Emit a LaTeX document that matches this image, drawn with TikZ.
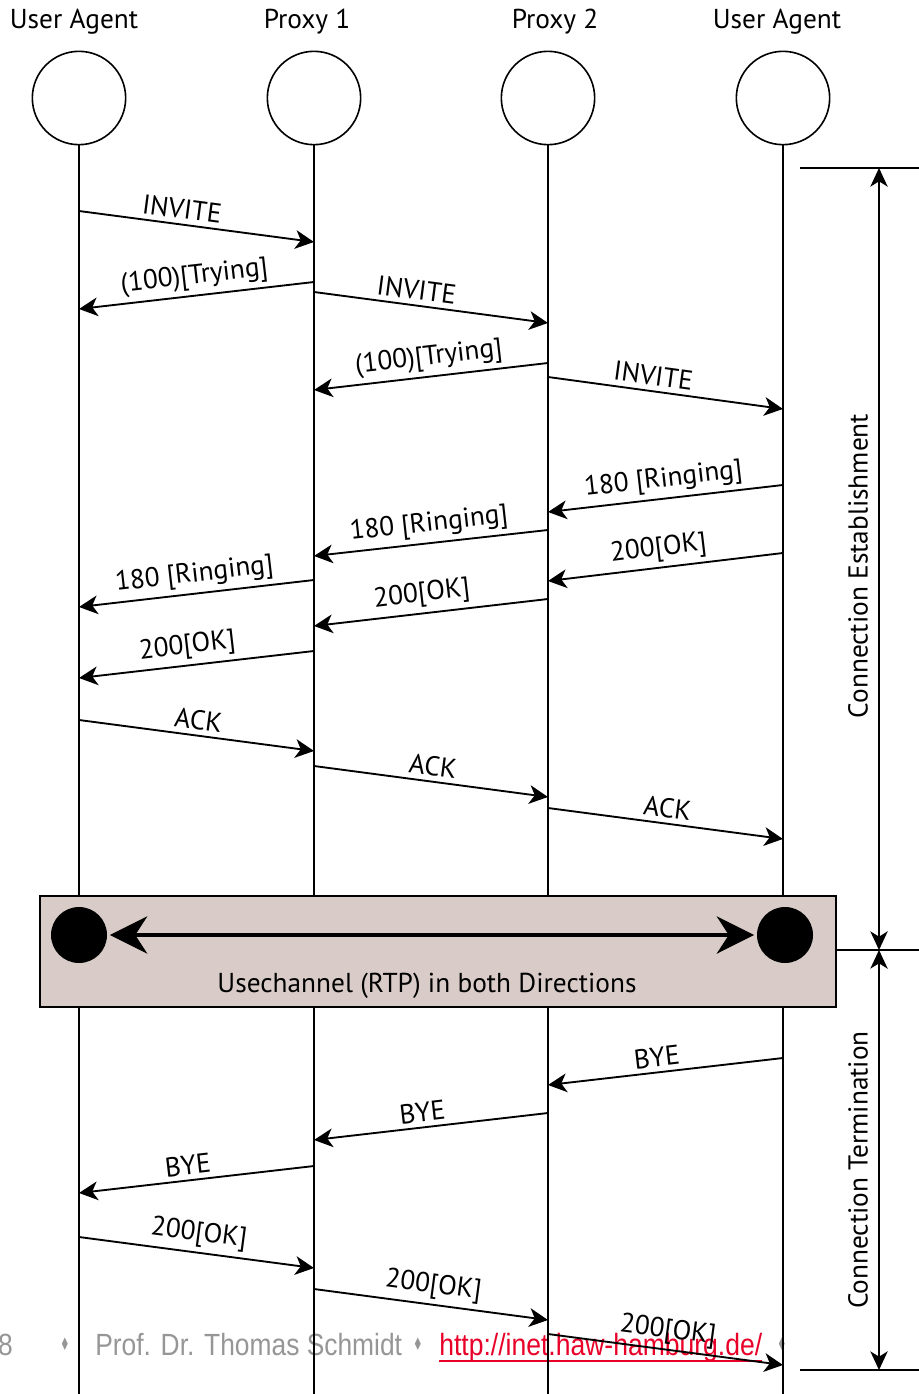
\documentclass[tikz,border=0pt]{standalone}
\usepackage{fontspec}
\setmainfont{PT Sans}
\newfontfamily\footfont{Liberation Sans}
\newfontfamily\symfont{DejaVu Sans}
\usetikzlibrary{arrows.meta}
\definecolor{boxfill}{RGB}{217,204,200}
\definecolor{footgray}{RGB}{150,150,150}
\definecolor{linkred}{RGB}{232,0,40}
\tikzset{
  actor/.style={circle, draw, line width=1.2pt, minimum size=70pt, inner sep=0pt},
  life/.style={line width=1.2pt},
  msg/.style={line width=1.4pt, -{Stealth[length=14pt,width=14pt,inset=4pt]}},
  lbl/.style={above, sloped, inner sep=3.5pt},
  rtp/.style={line width=2.6pt, {Stealth[length=28pt,width=28pt,inset=9pt]}-{Stealth[length=28pt,width=28pt,inset=9pt]}, shorten <=2pt, shorten >=2pt},
  dotst/.style={circle, fill=black, minimum size=42pt, inner sep=0pt},
  dim/.style={line width=1.2pt, {Stealth[length=14pt,width=13pt,inset=4pt]}-{Stealth[length=14pt,width=13pt,inset=4pt]}},
  tick/.style={line width=1.4pt},
  chanbox/.style={draw, fill=boxfill, line width=1.2pt, minimum width=597pt, minimum height=83.25pt, inner sep=0pt},
  foot/.style={font=\footfont\fontsize{23}{25}\selectfont, text=footgray, inner sep=0pt},
  diam/.style={font=\symfont\fontsize{10}{11}\selectfont, text=footgray, inner sep=0pt},
  title/.style={inner sep=0pt}
}
\begin{document}
\begin{tikzpicture}[x=0.75pt, y=-0.75pt, font=\fontsize{20.5}{23}\selectfont]
\useasboundingbox (0,0) rectangle (919,1394);

% footer (behind the diagram)
\node[foot, anchor=base east] (pg) at (13,1355) {\scalebox{0.86}[1]{8}};
\node[diam] (dm1) at (65,1344) {\scalebox{0.8}[1.3]{♦}};
\node[foot, anchor=base west] (auth) at (95,1355) {\scalebox{0.86}[1]{Prof. Dr. Thomas Schmidt}};
\node[diam] (dm2) at (418,1344) {\scalebox{0.8}[1.3]{♦}};
\node[foot, anchor=base west, text=linkred] (link) at (439,1355) {\scalebox{0.865}[1]{http://inet.haw-hamburg.de/}};
\draw[linkred, line width=1.5pt] ([yshift=-4.5pt]link.base west) -- ([yshift=-4.5pt]link.base east);
\node[diam] (dm3) at (782,1344) {\scalebox{0.8}[1.3]{♦}};

% titles
\node[title] (t1) at (74,22) {User Agent};
\node[title] (t2) at (307,22) {Proxy 1};
\node[title] (t3) at (555,22) {Proxy 2};
\node[title] (t4) at (777,22) {User Agent};

% actors
\node[actor] (ua1) at (79,98) {};
\node[actor] (p1) at (314,98) {};
\node[actor] (p2) at (548,98) {};
\node[actor] (ua2) at (783,98) {};

\coordinate (ua1e) at (79,1394);
\coordinate (p1e) at (314,1394);
\coordinate (p2e) at (548,1394);
\coordinate (ua2e) at (783,1394);
\draw[life] (ua1) -- (ua1e);
\draw[life] (p1) -- (p1e);
\draw[life] (p2) -- (p2e);
\draw[life] (ua2) -- (ua2e);

% messages
\draw[msg] (ua1 |- 0,211) -- node[lbl, pos=0.43]{INVITE} (p1 |- 0,242);
\draw[msg] (p1 |- 0,282) -- node[lbl]{(100)[Trying]} (ua1 |- 0,309);
\draw[msg] (p1 |- 0,292) -- node[lbl, pos=0.43]{INVITE} (p2 |- 0,323);
\draw[msg] (p2 |- 0,363) -- node[lbl]{(100)[Trying]} (p1 |- 0,390);
\draw[msg] (p2 |- 0,377) -- node[lbl, pos=0.44]{INVITE} (ua2 |- 0,409);
\draw[msg] (ua2 |- 0,485) -- node[lbl]{180 [Ringing]} (p2 |- 0,512);
\draw[msg] (p2 |- 0,530) -- node[lbl]{180 [Ringing]} (p1 |- 0,556);
\draw[msg] (ua2 |- 0,553) -- node[lbl, pos=0.52]{200[OK]} (p2 |- 0,581);
\draw[msg] (p1 |- 0,580) -- node[lbl]{180 [Ringing]} (ua1 |- 0,607);
\draw[msg] (p2 |- 0,599) -- node[lbl, pos=0.53]{200[OK]} (p1 |- 0,626);
\draw[msg] (p1 |- 0,651) -- node[lbl, pos=0.53]{200[OK]} (ua1 |- 0,678);
\draw[msg] (ua1 |- 0,720) -- node[lbl]{ACK} (p1 |- 0,751);
\draw[msg] (p1 |- 0,766) -- node[lbl]{ACK} (p2 |- 0,797);
\draw[msg] (p2 |- 0,808) -- node[lbl]{ACK} (ua2 |- 0,839);

% channel box
\node[chanbox] (chan) at (438,951.5) {};
\node[dotst] (d1) at (79,935) {};
\node[dotst] (d2) at (785,935) {};
\draw[rtp] (d1) -- (d2);
\node (chantext) at (427,986) {Usechannel (RTP) in both Directions};

% termination
\draw[msg] (ua2 |- 0,1058) -- node[lbl, pos=0.53]{BYE} (p2 |- 0,1085);
\draw[msg] (p2 |- 0,1113) -- node[lbl, pos=0.53]{BYE} (p1 |- 0,1140);
\draw[msg] (p1 |- 0,1166) -- node[lbl, pos=0.53]{BYE} (ua1 |- 0,1193);
\draw[msg] (ua1 |- 0,1237) -- node[lbl]{200[OK]} (p1 |- 0,1268);
\draw[msg] (p1 |- 0,1289) -- node[lbl]{200[OK]} (p2 |- 0,1320);
\draw[msg] (p2 |- 0,1334) -- node[lbl]{200[OK]} (ua2 |- 0,1365);

% dimension lines
\coordinate (dtop) at (879,168);
\coordinate (dmid) at (879,950);
\coordinate (dbot) at (879,1370);
\coordinate (htl) at (800,168);
\coordinate (htr) at (919,168);
\coordinate (hmr) at (919,950);
\coordinate (hbl) at (800,1370);
\coordinate (hbr) at (919,1370);
\draw[tick] (htl) -- (htr);
\draw[tick] (chan.east |- dmid) -- (hmr);
\draw[tick] (hbl) -- (hbr);
\draw[dim] (dtop) -- (dmid);
\draw[dim] (dmid) -- (dbot);
\node[rotate=90] (ce) at (858,566) {Connection Establishment};
\node[rotate=90] (ct) at (858,1170) {Connection Termination};
\end{tikzpicture}
\end{document}
